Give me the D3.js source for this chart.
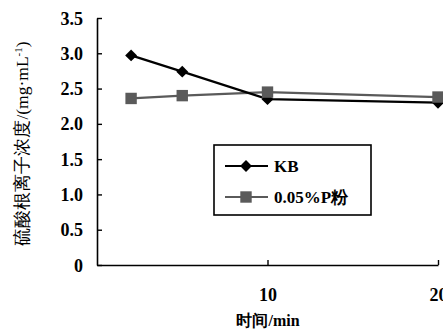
<!DOCTYPE html>
<html>
<head>
<meta charset="utf-8">
<script src="https://cdn.jsdelivr.net/npm/d3@7"></script>
<style>
  body { margin: 0; background: #fff; }
  svg text { fill: #000; }
</style>
</head>
<body>
<div id="chart"></div>
<script>
// data
const times = [2, 5, 10, 20];
const kbValues = [2.97, 2.74, 2.35, 2.30];
const pValues = [2.36, 2.40, 2.45, 2.38];
const seriesNames = ['KB', '0.05%P粉'];
const yTicks = [0, 0.5, 1.0, 1.5, 2.0, 2.5, 3.0, 3.5];
const xTicks = [10, 20];

const width = 443, height = 331;
const margin = { top: 18, right: 5, bottom: 66, left: 97 };
const serif = "'Liberation Serif', 'DejaVu Serif', 'Times New Roman', serif";

let svg = d3.select('#chart').append('svg')
    .attr('width', width)
    .attr('height', height)
    .style('font-family', serif);

let x = d3.scaleLinear().domain([0, 20]).range([margin.left, 438]);
let y = d3.scaleLinear().domain([0, 3.5]).range([265, margin.top]);

// axes
let yAxis = d3.axisLeft(y).tickValues(yTicks).tickSizeInner(-5).tickSizeOuter(0)
    .tickFormat(d => d === 0 ? '0' : d3.format('.1f')(d));
let gy = svg.append('g').attr('transform', `translate(${margin.left},0)`).call(yAxis);
gy.attr('font-family', null);
gy.select('.domain').attr('stroke', '#000').attr('stroke-width', 1.6);
gy.selectAll('.tick line').attr('stroke-width', 1.4);
gy.selectAll('.tick text').attr('x', -14).style('font-family', serif).style('font-size', '18px').style('font-weight', 'bold').attr('dy', '0.34em');

let xAxis = d3.axisBottom(x).tickValues(xTicks).tickSizeInner(-5).tickSizeOuter(0);
let gx = svg.append('g').attr('transform', `translate(0,265)`).call(xAxis);
gx.attr('font-family', null);
gx.select('.domain').attr('stroke', '#000').attr('stroke-width', 1.6);
gx.selectAll('.tick line').attr('stroke-width', 1.4);
gx.selectAll('.tick text').attr('y', 23).style('font-family', serif).style('font-size', '18px').style('font-weight', 'bold');

// axis titles
let ytitle = svg.append('text')
    .attr('transform', `translate(28,${(18 + 265) / 2 + 2}) rotate(-90)`)
    .attr('text-anchor', 'middle')
    .style('font-size', '17.5px')
    .text('硫酸根离子浓度/(mg·mL');
ytitle.append('tspan').attr('dy', -6).style('font-size', '11px').text('-1');
ytitle.append('tspan').attr('dy', 6).text(')');

svg.append('text')
    .attr('x', 268).attr('y', 326)
    .attr('text-anchor', 'middle')
    .style('font-size', '16px')
    .style('font-weight', 'bold')
    .text('时间/min');

// lines
let line = d3.line().x((d, i) => x(times[i])).y(d => y(d));
const pColor = '#5a5a5a';

svg.append('path').datum(pValues)
    .attr('d', line).attr('fill', 'none').attr('stroke', pColor).attr('stroke-width', 2.2);
svg.append('path').datum(kbValues)
    .attr('d', line).attr('fill', 'none').attr('stroke', '#000').attr('stroke-width', 2.2);

let diamond = d3.symbol().type(d3.symbolDiamond2).size(90);
let square = d3.symbol().type(d3.symbolSquare).size(130);

svg.selectAll('path.kb').data(kbValues).join('path')
    .attr('class', 'kb')
    .attr('d', diamond)
    .attr('transform', (d, i) => `translate(${x(times[i])},${y(d)})`)
    .attr('fill', '#000');

svg.selectAll('path.pf').data(pValues).join('path')
    .attr('class', 'pf')
    .attr('d', square)
    .attr('transform', (d, i) => `translate(${x(times[i])},${y(d)})`)
    .attr('fill', pColor);

// legend
let legend = svg.append('g');
legend.append('rect')
    .attr('x', 214).attr('y', 145).attr('width', 157).attr('height', 70)
    .attr('fill', '#fff').attr('stroke', '#000').attr('stroke-width', 1.6);

const legendRows = [
    { name: seriesNames[0], color: '#000', sym: diamond, yy: 166 },
    { name: seriesNames[1], color: pColor, sym: square, yy: 197 }
];
legendRows.forEach(r => {
    legend.append('line')
        .attr('x1', 225).attr('x2', 268).attr('y1', r.yy).attr('y2', r.yy)
        .attr('stroke', r.color).attr('stroke-width', 2.2);
    legend.append('path').attr('d', r.sym)
        .attr('transform', `translate(246,${r.yy})`).attr('fill', r.color);
    legend.append('text')
        .attr('x', 274).attr('y', r.yy).attr('dy', '0.35em')
        .style('font-size', '17px').style('font-weight', 'bold')
        .text(r.name);
});
</script>
</body>
</html>
